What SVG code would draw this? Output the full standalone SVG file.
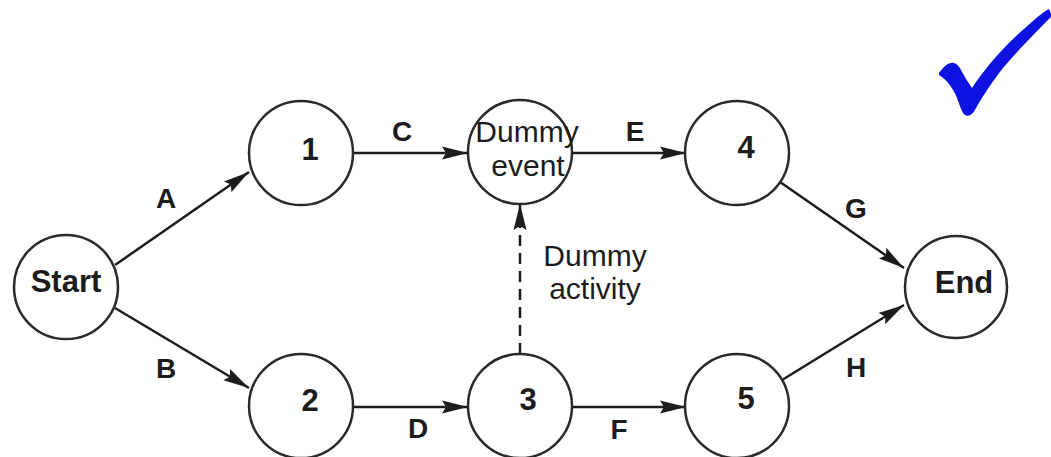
<svg xmlns="http://www.w3.org/2000/svg" width="1051" height="457" viewBox="0 0 1051 457">
  <defs>
    <style>
      .node circle { fill: #ffffff; stroke: #2a2a2a; stroke-width: 2.5; }
      .node text { font-family: "Liberation Sans", Arial, sans-serif; fill: #1c1c1c; text-anchor: middle; }
      .bold { font-weight: bold; font-size: 31px; }
      .reg { font-weight: normal; font-size: 30px; }
      .edge { stroke: #1c1c1c; stroke-width: 2.5; fill: none; marker-end: url(#arr); }
      .dash { stroke-dasharray: 11 7; }
      .lbl { font-family: "Liberation Sans", Arial, sans-serif; font-weight: bold; font-size: 28px; fill: #1c1c1c; text-anchor: middle; }
      .note { font-family: "Liberation Sans", Arial, sans-serif; font-size: 30px; fill: #1c1c1c; text-anchor: middle; }
    </style>
    <marker id="arr" markerUnits="userSpaceOnUse" markerWidth="27" markerHeight="15" refX="26" refY="7.5" orient="auto">
      <path d="M0,1 L26,7.5 L0,14 L4,7.5 Z" fill="#1c1c1c"/>
    </marker>
  </defs>
  <rect width="1051" height="457" fill="#ffffff"/>

  <g id="connectors">
    <line id="edge-A" class="edge" x1="115" y1="265" x2="249" y2="172"/>
    <line id="edge-B" class="edge" x1="115" y1="308" x2="249" y2="388"/>
    <line id="edge-C" class="edge" x1="353" y1="153" x2="468" y2="153"/>
    <line id="edge-E" class="edge" x1="572" y1="153" x2="686" y2="153"/>
    <line id="edge-D" class="edge" x1="353" y1="407" x2="468" y2="407"/>
    <line id="edge-F" class="edge" x1="572" y1="407" x2="686" y2="407"/>
    <line id="edge-G" class="edge" x1="780" y1="182" x2="904" y2="268"/>
    <line id="edge-H" class="edge" x1="782" y1="380" x2="904" y2="305"/>
    <line id="edge-dummy" class="edge dash" x1="520" y1="354" x2="520" y2="204"/>
    <text class="lbl" x="166" y="208">A</text>
    <text class="lbl" x="166" y="378">B</text>
    <text class="lbl" x="402" y="141">C</text>
    <text class="lbl" x="418" y="438">D</text>
    <text class="lbl" x="635" y="141">E</text>
    <text class="lbl" x="619" y="439">F</text>
    <text class="lbl" x="856" y="218">G</text>
    <text class="lbl" x="856" y="377">H</text>
    <text class="note" x="595" y="266">Dummy</text>
    <text class="note" x="595" y="299">activity</text>
  </g>

  <g id="node-start" class="node">
    <circle cx="66" cy="287" r="52"/>
    <text class="bold" x="66" y="292">Start</text>
  </g>
  <g id="node-1" class="node">
    <circle cx="301" cy="153" r="52"/>
    <text class="bold" x="310" y="160">1</text>
  </g>
  <g id="node-2" class="node">
    <circle cx="301" cy="406" r="52"/>
    <text class="bold" x="310" y="411">2</text>
  </g>
  <g id="node-dummy-event" class="node">
    <circle cx="520" cy="152" r="52"/>
    <text class="reg" x="527" y="142">Dummy</text>
    <text class="reg" x="528" y="176">event</text>
  </g>
  <g id="node-3" class="node">
    <circle cx="520" cy="406" r="52"/>
    <text class="bold" x="528" y="410">3</text>
  </g>
  <g id="node-4" class="node">
    <circle cx="737" cy="153" r="52"/>
    <text class="bold" x="746" y="158">4</text>
  </g>
  <g id="node-5" class="node">
    <circle cx="737" cy="406" r="52"/>
    <text class="bold" x="746" y="409">5</text>
  </g>
  <g id="node-end" class="node">
    <circle cx="956" cy="287" r="51"/>
    <text class="bold" x="964" y="293">End</text>
  </g>

  <g id="checkmark">
    <path d="M939,73 C944,66 949,62 954,63 C959,64 962,72 966,79 L972,88 C985,68 1005,45 1025,28 C1035,19 1043,12 1049,9 L1052,16 C1040,28 1020,48 1003,68 C992,82 982,97 975,110 C972,115 968,117 965,115 C962,113 960,106 957,98 C953,88 947,80 939,75 Z" fill="#0d12e0"/>
  </g>
</svg>
